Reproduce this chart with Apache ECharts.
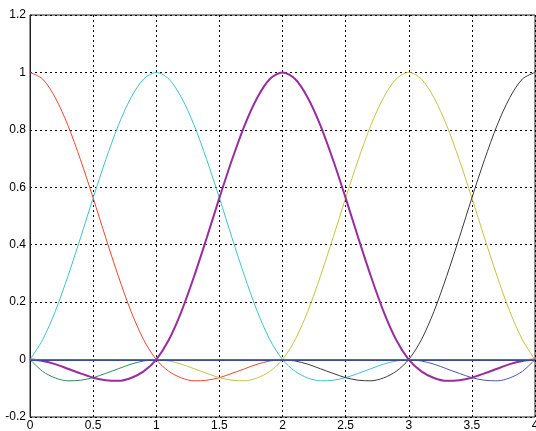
<!DOCTYPE html>
<html>
<head>
<meta charset="utf-8">
<script src="https://cdn.jsdelivr.net/npm/echarts@6/dist/echarts.min.js"></script>
<style>
  html, body { margin: 0; padding: 0; background: #fff; }
  #chart { width: 536px; height: 431px; }
</style>
</head>
<body>
<div id="chart"></div>
<script>
// x samples, step 0.1 from 0 to 4
const xs = [0, 0.1, 0.2, 0.3, 0.4, 0.5, 0.6, 0.7, 0.8, 0.9, 1, 1.1, 1.2, 1.3, 1.4, 1.5, 1.6, 1.7, 1.8, 1.9, 2,
  2.1, 2.2, 2.3, 2.4, 2.5, 2.6, 2.7, 2.8, 2.9, 3, 3.1, 3.2, 3.3, 3.4, 3.5, 3.6, 3.7, 3.8, 3.9, 4];

// curve values (null = not drawn)
const redY = [1, 0.977, 0.912, 0.816, 0.696, 0.563, 0.424, 0.29, 0.168, 0.069, 0, -0.041, -0.064, -0.074, -0.072, -0.063, -0.048, -0.032, -0.016, -0.005, 0,
  null, null, null, null, null, null, null, null, null, null, null, null, null, null, null, null, null, null, null, null];
const cyanY = [0, 0.069, 0.168, 0.29, 0.424, 0.563, 0.696, 0.816, 0.912, 0.977, 1, 0.977, 0.912, 0.816, 0.696, 0.563, 0.424, 0.29, 0.168, 0.069, 0,
  -0.041, -0.064, -0.074, -0.072, -0.063, -0.048, -0.032, -0.016, -0.005, 0, null, null, null, null, null, null, null, null, null, null];
const purpleY = [0, -0.005, -0.016, -0.032, -0.048, -0.063, -0.072, -0.074, -0.064, -0.041, 0, 0.069, 0.168, 0.29, 0.424, 0.563, 0.696, 0.816, 0.912, 0.977, 1,
  0.977, 0.912, 0.816, 0.696, 0.563, 0.424, 0.29, 0.168, 0.069, 0, -0.041, -0.064, -0.074, -0.072, -0.063, -0.048, -0.032, -0.016, -0.005, 0];
const oliveY = [null, null, null, null, null, null, null, null, null, null, 0, -0.005, -0.016, -0.032, -0.048, -0.063, -0.072, -0.074, -0.064, -0.041, 0,
  0.069, 0.168, 0.29, 0.424, 0.563, 0.696, 0.816, 0.912, 0.977, 1, 0.977, 0.912, 0.816, 0.696, 0.563, 0.424, 0.29, 0.168, 0.069, 0];
const blackY = [null, null, null, null, null, null, null, null, null, null, null, null, null, null, null, null, null, null, null, null, 0,
  -0.005, -0.016, -0.032, -0.048, -0.063, -0.072, -0.074, -0.064, -0.041, 0, 0.069, 0.168, 0.29, 0.424, 0.563, 0.696, 0.816, 0.912, 0.977, 1];
const greenY = [0, -0.041, -0.064, -0.074, -0.072, -0.063, -0.048, -0.032, -0.016, -0.005, 0,
  null, null, null, null, null, null, null, null, null, null, null, null, null, null, null, null, null, null, null, null, null, null, null, null, null, null, null, null, null, null];
const blueY = [null, null, null, null, null, null, null, null, null, null, null, null, null, null, null, null, null, null, null, null, null,
  null, null, null, null, null, null, null, null, null, 0, -0.005, -0.016, -0.032, -0.048, -0.063, -0.072, -0.074, -0.064, -0.041, 0];

const xTicks = [0, 0.5, 1, 1.5, 2, 2.5, 3, 3.5, 4];
const yTicks = [-0.2, 0, 0.2, 0.4, 0.6, 0.8, 1, 1.2];

const pairs = (ys) => xs.map((x, i) => [x, ys[i]]);

const curves = [
  { name: 'green', ys: greenY, color: '#2e8b57', width: 1 },
  { name: 'red', ys: redY, color: '#f04430', width: 1 },
  { name: 'cyan', ys: cyanY, color: '#3cc4c4', width: 1 },
  { name: 'olive', ys: oliveY, color: '#c4c440', width: 1 },
  { name: 'black', ys: blackY, color: '#3a3a3a', width: 1 },
  { name: 'blue', ys: blueY, color: '#4a55b4', width: 1 },
  { name: 'purple', ys: purpleY, color: '#9a2c9e', width: 2 },
];

const chart = echarts.init(document.getElementById('chart'));

const series = curves.map((c) => ({
  name: c.name,
  type: 'line',
  data: pairs(c.ys),
  smooth: 0.3,
  showSymbol: false,
  connectNulls: false,
  lineStyle: { color: c.color, width: c.width },
  itemStyle: { color: c.color },
  silent: true,
  z: 3,
}));

// zero line: navy over green, as in the original
series.push({
  type: 'line',
  data: [],
  silent: true,
  z: 4,
  markLine: {
    silent: true,
    symbol: 'none',
    label: { show: false },
    data: [
      { yAxis: 0, lineStyle: { color: '#3a4a9a', width: 2, type: 'solid' } },
      { yAxis: 0, lineStyle: { color: '#229050', width: 1, type: 'solid' } },
    ],
  },
});

chart.setOption({
  animation: false,
  grid: {
    left: 30, right: 1, top: 15, bottom: 14,
    outerBoundsMode: 'none',
    show: true, borderColor: '#222', borderWidth: 1,
  },
  xAxis: {
    type: 'value',
    min: xTicks[0],
    max: xTicks[xTicks.length - 1],
    interval: 0.5,
    axisLine: { show: true, lineStyle: { color: '#222' } },
    axisTick: { show: false },
    axisLabel: {
      color: '#000', fontSize: 12, fontFamily: 'Liberation Sans', margin: 3,
      showMinLabel: true, showMaxLabel: true,
    },
    splitLine: { show: true, lineStyle: { color: '#000', type: [2, 3], width: 1 } },
  },
  yAxis: {
    type: 'value',
    min: yTicks[0],
    max: yTicks[yTicks.length - 1],
    interval: 0.2,
    axisLine: { show: true, lineStyle: { color: '#222' } },
    axisTick: { show: false },
    axisLabel: {
      color: '#000', fontSize: 12, fontFamily: 'Liberation Sans', margin: 4,
      formatter: (v) => String(Math.round(v * 10) / 10),
    },
    splitLine: { show: true, lineStyle: { color: '#000', type: [2, 3], width: 1 } },
  },
  series,
});
</script>
</body>
</html>
